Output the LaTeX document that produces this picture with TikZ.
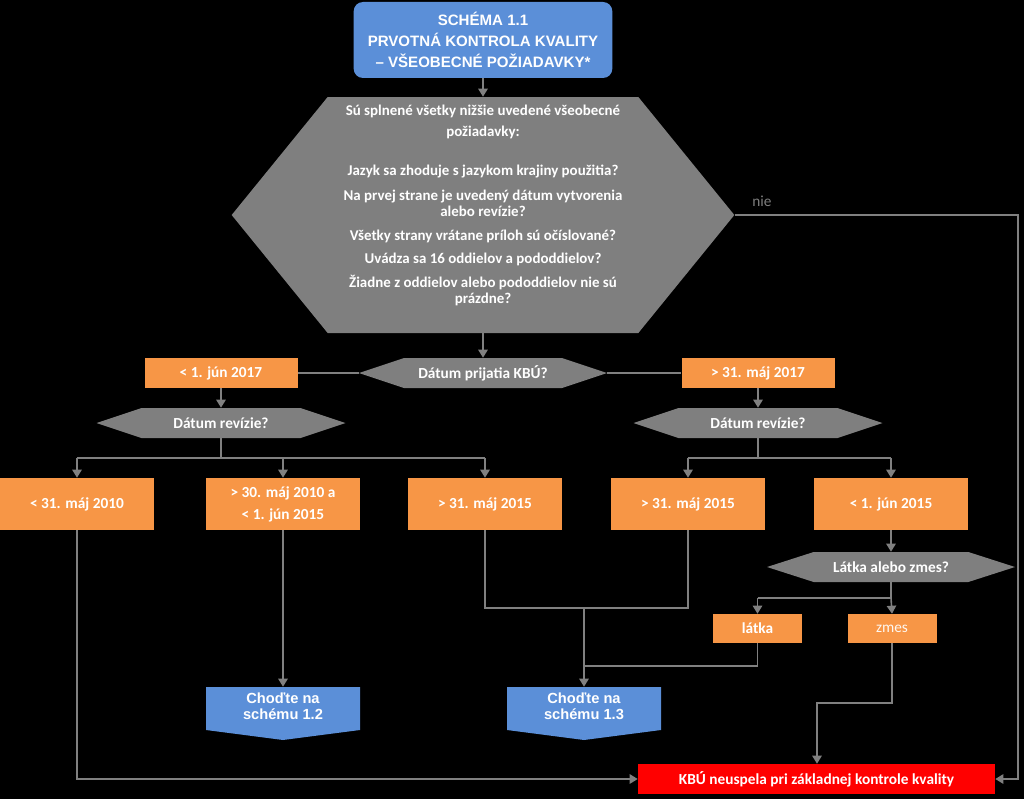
\documentclass[tikz,border=0pt]{standalone}
\usepackage{fontspec}
\setmainfont{Carlito}
\newfontfamily\arialf{Liberation Sans}
\usetikzlibrary{arrows.meta,calc}
\definecolor{grayc}{HTML}{7F7F7F}
\definecolor{orc}{HTML}{F79646}
\definecolor{bluec}{HTML}{5B8FD8}
\definecolor{redc}{HTML}{FF0000}
\definecolor{linec}{HTML}{808080}
\begin{document}
\begin{tikzpicture}[x=0.75pt,y=-0.75pt,
 every node/.style={text=white, font=\fontsize{11.5}{12}\selectfont\bfseries, inner sep=0pt},
 obox/.style={fill=orc, minimum height=39pt, minimum width=115.5pt, align=center},
 hexa/.style={minimum height=22.5pt, minimum width=186pt, path picture={\fill[grayc] (path picture bounding box.west) -- ([xshift=#1]path picture bounding box.north west) -- ([xshift=-#1]path picture bounding box.north east) -- (path picture bounding box.east) -- ([xshift=-#1]path picture bounding box.south east) -- ([xshift=#1]path picture bounding box.south west) -- cycle;}},
 chev/.style={minimum width=115.5pt, minimum height=39.75pt, align=center, font=\arialf\fontsize{11}{12}\selectfont\bfseries, path picture={\fill[bluec] (path picture bounding box.north west) -- (path picture bounding box.north east) -- ([yshift=7.5pt]path picture bounding box.south east) -- (path picture bounding box.south) -- ([yshift=7.5pt]path picture bounding box.south west) -- cycle;}},
 title/.style={fill=bluec, rounded corners=7pt, minimum width=194pt, minimum height=57pt, align=center, font=\arialf\fontsize{11.3}{16}\selectfont\bfseries},
 conn/.style={draw=linec, line width=1.2pt},
 arr/.style={conn, -{Triangle[width=7pt,length=6pt]}}
]
\fill[black] (0,0) rectangle (1024,799);
\useasboundingbox (0,0) rectangle (1024,799);

% title
\node[title] (t) at (483,40) {SCHÉMA 1.1\\PRVOTNÁ KONTROLA KVALITY\\– VŠEOBECNÉ POŽIADAVKY*};

% main question
\node[hexa=72pt, minimum width=377pt, minimum height=177pt, font=\fontsize{11.2}{12}\selectfont\bfseries] (q) at (483,215)
 {\raisebox{6.5pt}[\height][\depth]{\begin{tabular}{@{}c@{}}
 Sú splnené všetky nižšie uvedené všeobecné\\[3.75pt]
 požiadavky:\\[17.25pt]
 Jazyk sa zhoduje s jazykom krajiny použitia?\\[6.75pt]
 Na prvej strane je uvedený dátum vytvorenia\\
 alebo revízie?\\[6pt]
 Všetky strany vrátane príloh sú očíslované?\\[5.25pt]
 Uvádza sa 16 oddielov a pododdielov?\\[5.25pt]
 Žiadne z oddielov alebo pododdielov nie sú\\
 prázdne?
 \end{tabular}}};
\node[text=grayc, font=\fontsize{11.5}{12}\selectfont, anchor=west] (nie) at (752,201) {nie};

% second level
\node[hexa=33.75pt] (h2) at (483,373) {Dátum prijatia KBÚ?};
\node[obox, minimum height=22.5pt, minimum width=114.75pt] (o1) at (221,373) {< 1. jún 2017};
\node[obox, minimum height=22.5pt, minimum width=114.75pt] (o2) at (758,373) {> 31. máj 2017};
\node[hexa=33.75pt, minimum width=186.75pt] (h3) at (221,423) {Dátum revízie?};
\node[hexa=33.75pt, minimum width=186.75pt] (h4) at (758,423) {Dátum revízie?};

% row of boxes
\node[obox] (b1) at (77,504) {< 31. máj 2010};
\node[obox] (b2) at (283,504) {> 30. máj 2010 a\\[4.5pt]< 1. jún 2015};
\node[obox] (b3) at (485,504) {> 31. máj 2015};
\node[obox] (b4) at (688,504) {> 31. máj 2015};
\node[obox] (b5) at (891,504) {< 1. jún 2015};

\node[hexa=35pt] (h5) at (891,567) {Látka alebo zmes?};
\node[obox, minimum width=66.75pt, minimum height=21.75pt] (l1) at (757.5,628.5) {látka};
\node[obox, minimum width=66.75pt, minimum height=21.75pt, font=\fontsize{11.5}{12}\selectfont, text=white!92!orc] (z1) at (892,628.5) {zmes};

% targets
\node[chev] (c1) at (283,713.5) {\raisebox{4pt}[\height][\depth]{\begin{tabular}{@{}c@{}}Choďte na\\schému 1.2\end{tabular}}};
\node[chev] (c2) at (584,713.5) {\raisebox{4pt}[\height][\depth]{\begin{tabular}{@{}c@{}}Choďte na\\schému 1.3\end{tabular}}};
\node[fill=redc, minimum width=267.75pt, minimum height=22.5pt] (r) at (816.5,779) {KBÚ neuspela pri základnej kontrole kvality};

% helper coordinates
\coordinate (j1) at (0,458);
\coordinate (j2) at (0,458);
\coordinate (j3) at (0,598);
\coordinate (j4) at (0,608);
\coordinate (j5) at (0,666);
\coordinate (j6) at (0,703);
\coordinate (e1) at (1018,0);
\coordinate (mz) at (817,0);

% connectors
\draw[arr] (t.south) -- (q.north);
\draw[arr] (q.south) -- (h2.north);
\draw[conn] (o1.east) -- (h2.west);
\draw[conn] (h2.east) -- (o2.west);
\draw[arr] (o1.south) -- (o1.south |- h3.north);
\draw[arr] (o2.south) -- (o2.south |- h4.north);

\draw[conn] (h3.south) -- (h3.south |- j1);
\draw[conn] (b1.north |- j1) -- (b3.north |- j1);
\draw[arr] (b1.north |- j1) -- (b1.north);
\draw[arr] (b2.north |- j1) -- (b2.north);
\draw[arr] (b3.north |- j1) -- (b3.north);

\draw[conn] (h4.south) -- (h4.south |- j2);
\draw[conn] (b4.north |- j2) -- (b5.north |- j2);
\draw[arr] (b4.north |- j2) -- (b4.north);
\draw[arr] (b5.north |- j2) -- (b5.north);

\draw[arr] (b5.south) -- (h5.north);
\draw[conn] (h5.south) -- (h5.south |- j3);
\draw[conn] (l1.north |- j3) -- (h5.south |- j3);
\draw[arr] (l1.north |- j3) -- (l1.north);
\draw[arr] (h5.south |- j3) -- (z1.north);

\draw[conn] (b3.south) -- (b3.south |- j4) -- (b4.south |- j4) -- (b4.south);
\draw[arr] (c2.north |- j4) -- (c2.north);
\draw[conn] (l1.south) -- (l1.south |- j5) -- (c2.north |- j5);
\draw[arr] (b2.south) -- (c1.north);

\draw[arr] (b1.south) |- (r.west);
\draw[arr] (q.east) -- (q.east -| e1) |- (r.east);
\draw[arr] (z1.south) -- (z1.south |- j6) -- (mz |- j6) -- (mz |- r.north);
\end{tikzpicture}
\end{document}
